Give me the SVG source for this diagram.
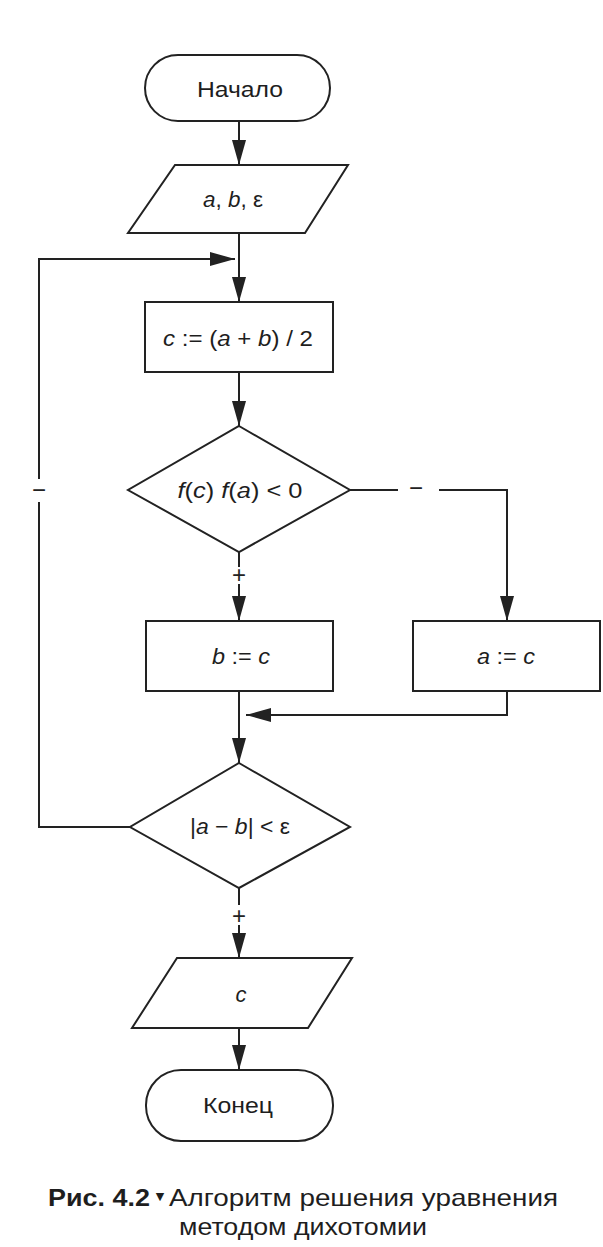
<svg xmlns="http://www.w3.org/2000/svg" width="603" height="1247" viewBox="0 0 603 1247">
<defs>
<style>
.shape{fill:none;stroke:#222;stroke-width:2}
.conn{fill:none;stroke:#222;stroke-width:2}
.lbl{font-family:"Liberation Sans",Arial,sans-serif;font-size:22px;fill:#1e1e1e;text-anchor:middle}
.mark{font-family:"Liberation Sans",Arial,sans-serif;font-size:24px;fill:#222;text-anchor:middle}
.i{font-style:italic}
.cap{font-family:"Liberation Sans",Arial,sans-serif;font-size:24px;fill:#1e1e1e}
.tri{font-family:"DejaVu Sans",sans-serif;font-size:11px;fill:#1e1e1e;text-anchor:middle}
</style>
<marker id="arr" markerUnits="userSpaceOnUse" markerWidth="25" markerHeight="14" refX="25" refY="7" orient="auto">
<path d="M0,0 L25,7 L0,14 z" fill="#222"/>
</marker>
</defs>
<rect width="603" height="1247" fill="#ffffff"/>

<g id="connectors">
<path class="conn" d="M239,121 V165" marker-end="url(#arr)"/>
<path class="conn" d="M239,233 V302" marker-end="url(#arr)"/>
<path class="conn" d="M239,372 V426" marker-end="url(#arr)"/>
<path class="conn" d="M130,827 H39 V502"/>
<path class="conn" d="M39,479 V259 H235" marker-end="url(#arr)"/>
<text class="mark" x="39" y="498">−</text>
<path class="conn" d="M350,490 H398"/>
<text class="mark" x="416" y="496">−</text>
<path class="conn" d="M439,490 H507 V621" marker-end="url(#arr)"/>
<path class="conn" d="M239,552 V567"/>
<text class="mark" x="239" y="583">+</text>
<path class="conn" d="M239,584 V621" marker-end="url(#arr)"/>
<path class="conn" d="M239,691 V763" marker-end="url(#arr)"/>
<path class="conn" d="M507,691 V715 H246" marker-end="url(#arr)"/>
<path class="conn" d="M239,888 V905"/>
<text class="mark" x="239" y="924">+</text>
<path class="conn" d="M239,925 V958" marker-end="url(#arr)"/>
<path class="conn" d="M239,1028 V1070" marker-end="url(#arr)"/>
</g>

<g id="start">
<rect class="shape" x="145" y="55" width="185" height="66" rx="33"/>
<text class="lbl" x="240" y="97" textLength="86" lengthAdjust="spacingAndGlyphs">Начало</text>
</g>
<g id="input">
<polygon class="shape" points="175,165 348,165 305,233 128,233"/>
<text class="lbl" x="233" y="207" textLength="60" lengthAdjust="spacingAndGlyphs"><tspan class="i">a</tspan>, <tspan class="i">b</tspan>, ε</text>
</g>
<g id="calc">
<rect class="shape" x="145" y="302" width="188" height="70"/>
<text class="lbl" x="238" y="346" textLength="150" lengthAdjust="spacingAndGlyphs"><tspan class="i">c</tspan> := (<tspan class="i">a</tspan> + <tspan class="i">b</tspan>) / 2</text>
</g>
<g id="cond1">
<polygon class="shape" points="239,426 350,490 239,552 128,490"/>
<text class="lbl" x="240" y="498" textLength="125" lengthAdjust="spacingAndGlyphs"><tspan class="i">f</tspan>(<tspan class="i">c</tspan>) <tspan class="i">f</tspan>(<tspan class="i">a</tspan>) &lt; 0</text>
</g>
<g id="bset">
<rect class="shape" x="146" y="621" width="187" height="70"/>
<text class="lbl" x="241" y="664" textLength="58" lengthAdjust="spacingAndGlyphs"><tspan class="i">b</tspan> := <tspan class="i">c</tspan></text>
</g>
<g id="aset">
<rect class="shape" x="413" y="621" width="187" height="70"/>
<text class="lbl" x="506" y="664" textLength="58" lengthAdjust="spacingAndGlyphs"><tspan class="i">a</tspan> := <tspan class="i">c</tspan></text>
</g>
<g id="cond2">
<polygon class="shape" points="239,763 350,827 239,888 130,827"/>
<text class="lbl" x="240" y="834" textLength="100" lengthAdjust="spacingAndGlyphs">|<tspan class="i">a</tspan> − <tspan class="i">b</tspan>| &lt; ε</text>
</g>
<g id="output">
<polygon class="shape" points="177,958 352,958 308,1028 132,1028"/>
<text class="lbl" x="241" y="1002"><tspan class="i">c</tspan></text>
</g>
<g id="end">
<rect class="shape" x="146" y="1070" width="187" height="71" rx="35"/>
<text class="lbl" x="238" y="1113" textLength="70" lengthAdjust="spacingAndGlyphs">Конец</text>
</g>

<g id="caption">
<text class="cap" x="48" y="1206" font-weight="bold" textLength="102" lengthAdjust="spacingAndGlyphs">Рис. 4.2</text>
<text class="tri" x="160" y="1200">▼</text>
<text class="cap" x="169" y="1206" textLength="389" lengthAdjust="spacingAndGlyphs">Алгоритм решения уравнения</text>
<text class="cap" x="303" y="1235" text-anchor="middle" textLength="248" lengthAdjust="spacingAndGlyphs">методом дихотомии</text>
</g>
</svg>
